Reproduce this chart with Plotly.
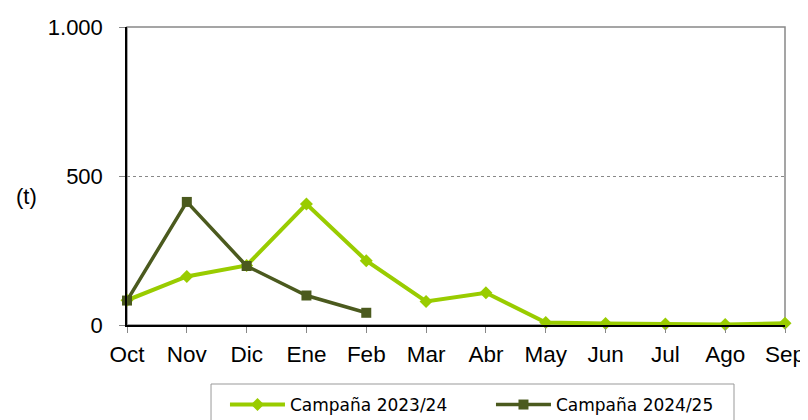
import plotly.graph_objects as go

months = ["Oct", "Nov", "Dic", "Ene", "Feb", "Mar", "Abr", "May", "Jun", "Jul", "Ago", "Sep"]
campana_2023_24 = [83, 163, 200, 406, 216, 79, 108, 8, 5, 3, 2, 6]
campana_2024_25 = [82, 413, 198, 99, 41]
y_tickvals = [0, 500, 1000]
y_ticktext = ["0", "500", "1.000"]

GREEN = "#99CC00"
DARK = "#4B5A1E"
FONT = "Liberation Sans, Arial, sans-serif"

fig = go.Figure()
fig.add_trace(go.Scatter(
    x=months, y=campana_2023_24, name="Campaña 2023/24", mode="lines+markers",
    line=dict(color=GREEN, width=4),
    marker=dict(symbol="diamond", size=10, color=GREEN),
    cliponaxis=False,
))
fig.add_trace(go.Scatter(
    x=months[:len(campana_2024_25)], y=campana_2024_25, name="Campaña 2024/25",
    mode="lines+markers",
    line=dict(color=DARK, width=3.5),
    marker=dict(symbol="square", size=10, color=DARK),
    cliponaxis=False,
))

# plot-area border (gray top/right)
fig.add_shape(type="rect", xref="paper", yref="paper", x0=0, y0=0, x1=1, y1=1,
              line=dict(color="#888888", width=1.5), layer="below")
# legend border box
fig.add_shape(type="rect", xref="paper", yref="paper", x0=0.1277, y0=-0.40, x1=0.9225, y1=-0.198,
              line=dict(color="#999999", width=1), layer="below")

fig.add_annotation(text="(t)", xref="paper", yref="paper", x=-0.153, y=0.43,
                   xanchor="center", yanchor="middle",
                   showarrow=False, font=dict(size=22, color="black", family=FONT))

fig.update_layout(
    width=808, height=420,
    margin=dict(l=119, r=31, t=19, b=103, autoexpand=False),
    paper_bgcolor="white", plot_bgcolor="white",
    font=dict(family=FONT, size=23, color="black"),
    showlegend=True,
    legend=dict(
        orientation="h", xanchor="left", yanchor="top", x=0.1489, y=-0.208,
        bgcolor="rgba(0,0,0,0)", borderwidth=0,
        font=dict(size=17, family="DejaVu Sans, sans-serif", color="black"),
        entrywidth=196, entrywidthmode="pixels",
        itemwidth=55,
    ),
    xaxis=dict(
        type="category", categoryorder="array", categoryarray=months,
        range=[0, 11], showgrid=False, showline=True, linecolor="black", linewidth=1.5,
        ticks="outside", ticklen=6, tickcolor="#888888", tickfont=dict(size=22.5),
        zeroline=False, automargin=False, ticklabelstandoff=2,
    ),
    yaxis=dict(
        range=[0, 1000], tickvals=y_tickvals, ticktext=y_ticktext,
        showgrid=True, gridcolor="#888888", griddash="dot", gridwidth=1,
        showline=True, linecolor="black", linewidth=1.5,
        ticks="outside", ticklen=6, tickcolor="#888888", tickfont=dict(size=22),
        ticklabelstandoff=12, zeroline=False, automargin=False,
    ),
)

fig.write_html("out.html")
